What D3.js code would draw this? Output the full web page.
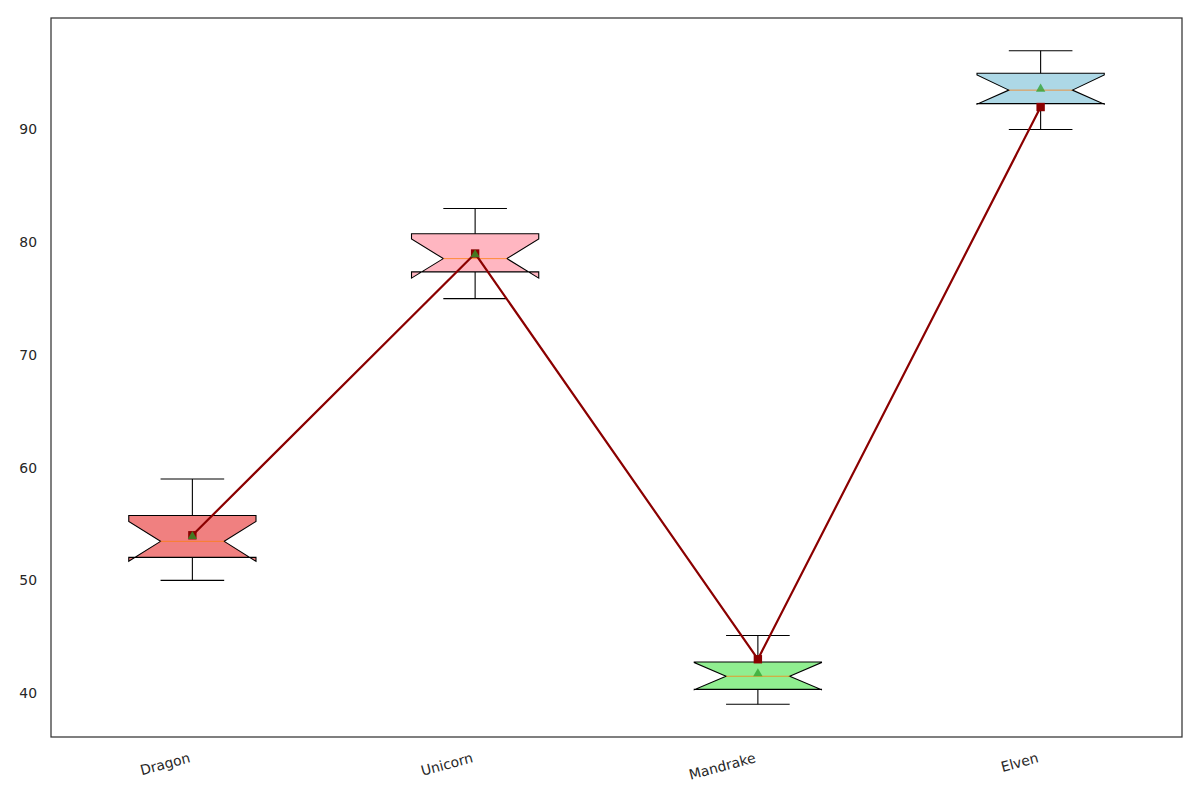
<!DOCTYPE html>
<html><head><meta charset="utf-8">
<script src="https://cdn.jsdelivr.net/npm/d3@7"></script>
<style>body{margin:0;background:#fff;} svg{display:block;}</style>
</head><body>
<svg id="chart" width="1200" height="800"></svg>
<script>
const categories = ["Dragon", "Unicorn", "Mandrake", "Elven"];
const whiskerLow = [50, 75, 39, 90];
const q1 = [52.04, 77.37, 40.33, 92.3];
const median = [53.46, 78.55, 41.49, 93.5];
const q3 = [55.76, 80.76, 42.76, 95.0];
const whiskerHigh = [59, 83, 45.1, 97];
const notchLow = [51.69, 76.82, 40.3, 92.25];
const notchHigh = [55.23, 80.3, 42.7, 94.85];
const means = [53.9, 78.9, 41.73, 93.6];
const lineValues = [54, 79, 43, 92];
const boxColors = ["#F08080", "#FFB6C1", "#90EE90", "#ADD8E6"];
const yTicks = [40, 50, 60, 70, 80, 90];

const svg = d3.select("#chart");
const L = 51, R = 1182, T = 18, B = 737;
const x = d3.scaleLinear().domain([0.5, 4.5]).range([L, R]);
const y = d3.scaleLinear().domain([36.1, 99.9]).range([B, T]);
const w = 0.45;
const font = "DejaVu Sans, sans-serif";

const data = categories.map((c, i) => ({
  c, pos: i + 1, lo: whiskerLow[i], q1: q1[i], med: median[i], q3: q3[i], hi: whiskerHigh[i],
  nlo: notchLow[i], nhi: notchHigh[i], mean: means[i], color: boxColors[i]
}));

// boxes (notched)
svg.append("g").selectAll("path").data(data).join("path")
  .attr("d", d => {
    const bl = d.pos - w / 2, br = d.pos + w / 2, cl = d.pos - w / 4, cr = d.pos + w / 4;
    const pts = [[bl, d.q1], [br, d.q1], [br, d.nlo], [cr, d.med], [br, d.nhi], [br, d.q3],
                 [bl, d.q3], [bl, d.nhi], [cl, d.med], [bl, d.nlo]];
    return "M" + pts.map(p => x(p[0]) + "," + y(p[1])).join("L") + "Z";
  })
  .attr("fill", d => d.color).attr("stroke", "#000").attr("stroke-width", 1.1)
  .attr("stroke-linejoin", "miter");

// whiskers and caps
const wg = svg.append("g").attr("stroke", "#000").attr("stroke-width", 1.1);
data.forEach(d => {
  wg.append("line").attr("x1", x(d.pos)).attr("x2", x(d.pos)).attr("y1", y(d.q1)).attr("y2", y(d.lo));
  wg.append("line").attr("x1", x(d.pos)).attr("x2", x(d.pos)).attr("y1", y(d.q3)).attr("y2", y(d.hi));
  wg.append("line").attr("x1", x(d.pos - w / 4)).attr("x2", x(d.pos + w / 4)).attr("y1", y(d.lo)).attr("y2", y(d.lo));
  wg.append("line").attr("x1", x(d.pos - w / 4)).attr("x2", x(d.pos + w / 4)).attr("y1", y(d.hi)).attr("y2", y(d.hi));
});

// medians
svg.append("g").selectAll("line").data(data).join("line")
  .attr("x1", d => x(d.pos - w / 4)).attr("x2", d => x(d.pos + w / 4))
  .attr("y1", d => y(d.med)).attr("y2", d => y(d.med))
  .attr("stroke", "#ff7f0e").attr("stroke-width", 1).attr("opacity", 0.75);

// line series
const line = d3.line().x((v, i) => x(i + 1)).y(v => y(v));
svg.append("path").datum(lineValues).attr("d", line)
  .attr("fill", "none").attr("stroke", "#8B0000").attr("stroke-width", 2.2);
svg.append("g").selectAll("rect").data(lineValues).join("rect")
  .attr("x", (v, i) => x(i + 1) - 4.2).attr("y", v => y(v) - 4.2)
  .attr("width", 8.4).attr("height", 8.4).attr("fill", "#8B0000");

// means
const tri = d3.symbol().type(d3.symbolTriangle).size(38);
svg.append("g").selectAll("path").data(data).join("path")
  .attr("d", tri).attr("transform", d => `translate(${x(d.pos)},${y(d.mean)})`)
  .attr("fill", "#2ca02c").attr("opacity", 0.75);

// frame
svg.append("rect").attr("x", L).attr("y", T).attr("width", R - L).attr("height", B - T)
  .attr("fill", "none").attr("stroke", "#333").attr("stroke-width", 1.25);

// y tick labels
svg.append("g").selectAll("text").data(yTicks).join("text")
  .attr("x", L - 14).attr("y", v => y(v)).attr("dy", "0.35em")
  .attr("text-anchor", "end").attr("font-family", font).attr("font-size", 13.9)
  .attr("fill", "#262626").text(v => v);

// x tick labels
svg.append("g").selectAll("text").data(categories).join("text")
  .attr("transform", (c, i) => `translate(${x(i + 1) - 4},${B + 15}) rotate(-15)`)
  .attr("text-anchor", "end").attr("dominant-baseline", "hanging")
  .attr("font-family", font).attr("font-size", 13.9).attr("fill", "#262626").text(c => c);
</script>
</body></html>
